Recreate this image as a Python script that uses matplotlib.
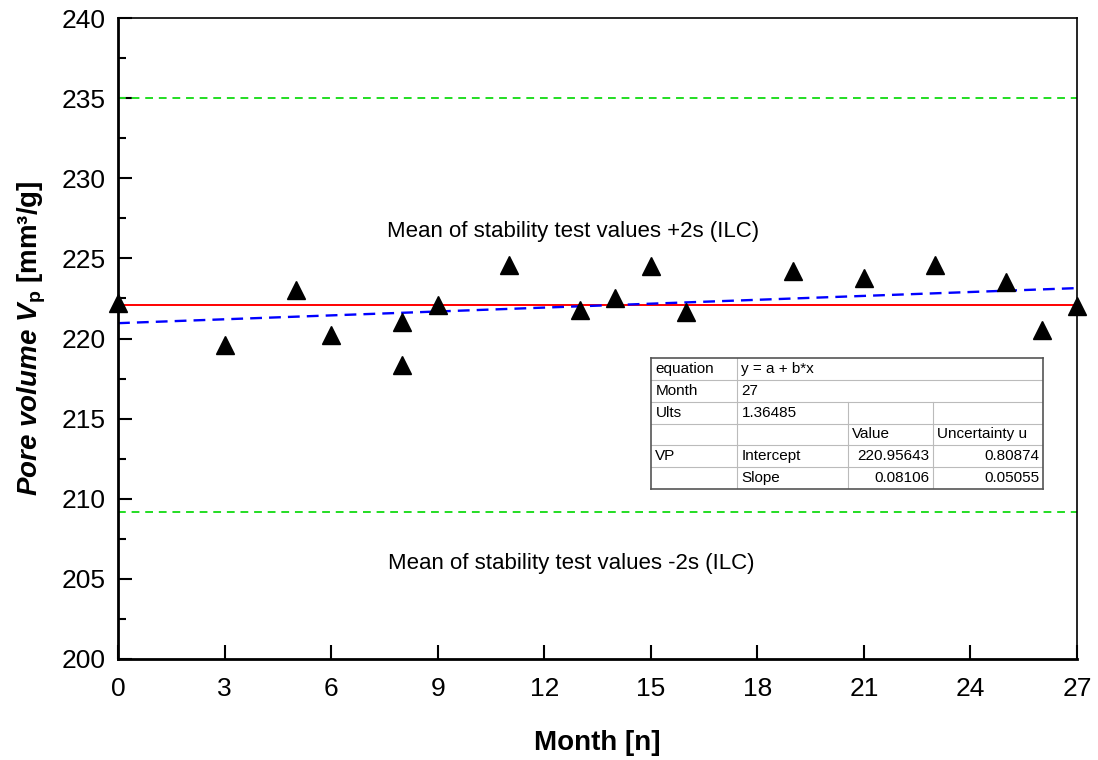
import numpy as np
import matplotlib.pyplot as plt
from matplotlib.ticker import MultipleLocator

plt.rcParams['font.family'] = ['Liberation Sans', 'DejaVu Sans']
plt.rcParams['mathtext.fontset'] = 'custom'
plt.rcParams['mathtext.rm'] = 'Liberation Sans'
plt.rcParams['mathtext.bf'] = 'Liberation Sans:bold'
plt.rcParams['mathtext.it'] = 'Liberation Sans:italic'
plt.rcParams['mathtext.bfit'] = 'Liberation Sans:italic:bold'

# data
month = [0, 3, 5, 6, 8, 8, 9, 11, 13, 14, 15, 16, 19, 21, 23, 25, 26, 27]
pore_volume = [222.2, 219.6, 223.0, 220.2, 221.05, 218.35, 222.1, 224.6, 221.8,
               222.5, 224.5, 221.65, 224.2, 223.8, 224.6, 223.5, 220.5, 222.0]
mean_value = 222.1
upper_limit = 235.0
lower_limit = 209.2
intercept = 220.95643
slope = 0.08106

table_rows = [
    ["equation", "y = a + b*x", "", ""],
    ["Month", "27", "", ""],
    ["Ults", "1.36485", "", ""],
    ["", "", "Value", "Uncertainty u"],
    ["VP", "Intercept", "220.95643", "0.80874"],
    ["", "Slope", "0.08106", "0.05055"],
]

fig = plt.figure(figsize=(10.98, 7.6), dpi=100)
ax = fig.add_axes([0.1075, 0.1329, 0.8734, 0.8434])

ax.axhline(upper_limit, color="#22dd22", ls=(0, (4, 3)), lw=1.4)
ax.axhline(lower_limit, color="#22dd22", ls=(0, (4, 3)), lw=1.4)
ax.axhline(mean_value, color="red", lw=1.4)
xfit = np.array([0, 27])
ax.plot(xfit, intercept + slope * xfit, color="blue", ls=(0, (5, 3)), lw=1.7)
ax.plot(month, pore_volume, ls="none", marker="^", color="black", ms=13, clip_on=False, zorder=5)

ax.text(12.8, 226.7, "Mean of stability test values +2s (ILC)", ha="center", va="center", fontsize=16)
ax.text(12.75, 205.95, "Mean of stability test values -2s (ILC)", ha="center", va="center", fontsize=16)

ax.set_xlim(0, 27)
ax.set_ylim(200, 240)
ax.xaxis.set_major_locator(MultipleLocator(3))
ax.yaxis.set_major_locator(MultipleLocator(5))
ax.yaxis.set_minor_locator(MultipleLocator(2.5))
ax.tick_params(axis="both", which="major", direction="in", length=10, width=1.5, labelsize=19)
ax.tick_params(axis="x", which="major", pad=13)
ax.tick_params(axis="y", which="major", pad=9)
ax.tick_params(axis="y", which="minor", direction="in", length=6, width=1.5)
ax.tick_params(axis="x", which="minor", bottom=False)
for s in ["left", "bottom"]:
    ax.spines[s].set_linewidth(2)
for s in ["top", "right"]:
    ax.spines[s].set_linewidth(1.2)

ax.set_xlabel("Month [n]", fontsize=20, fontweight="bold", labelpad=21)
ax.set_ylabel(r"$\mathbfit{Pore\ volume\ V}_{\mathbf{p}}$ [mm³/g]", fontsize=20, fontweight="bold", labelpad=10)

# fit table
tx0, tx1 = 651 / 1098, 1043 / 1098
ty0, ty1 = 1 - 358 / 760, 1 - 489 / 760
cols = [651, 737, 848, 933, 1043]
cx = [c / 1098 for c in cols]
nrow = len(table_rows)
rh = (ty0 - ty1) / nrow
tab = fig.add_axes([tx0, ty1, tx1 - tx0, ty0 - ty1])
tab.set_xlim(tx0, tx1)
tab.set_ylim(ty1, ty0)
tab.set_xticks([])
tab.set_yticks([])
for s in tab.spines.values():
    s.set_color("#555555")
    s.set_linewidth(1.2)
tab.set_zorder(6)
for i, row in enumerate(table_rows):
    ytop = ty0 - i * rh
    if i > 0:
        tab.plot([tx0, tx1], [ytop, ytop], color="#bbbbbb", lw=0.8)
    # vertical separators
    tab.plot([cx[1], cx[1]], [ytop, ytop - rh], color="#bbbbbb", lw=0.8)
    if i >= 2:
        for c in cx[2:4]:
            tab.plot([c, c], [ytop, ytop - rh], color="#bbbbbb", lw=0.8)
    yc = ytop - rh / 2
    for j, val in enumerate(row):
        if not val:
            continue
        if i >= 4 and j >= 2:
            tab.text(cx[j + 1] - 0.003, yc, val, ha="right", va="center", fontsize=11)
        else:
            tab.text(cx[j] + 0.004, yc, val, ha="left", va="center", fontsize=11)

fig.savefig("out.png", dpi=100)
